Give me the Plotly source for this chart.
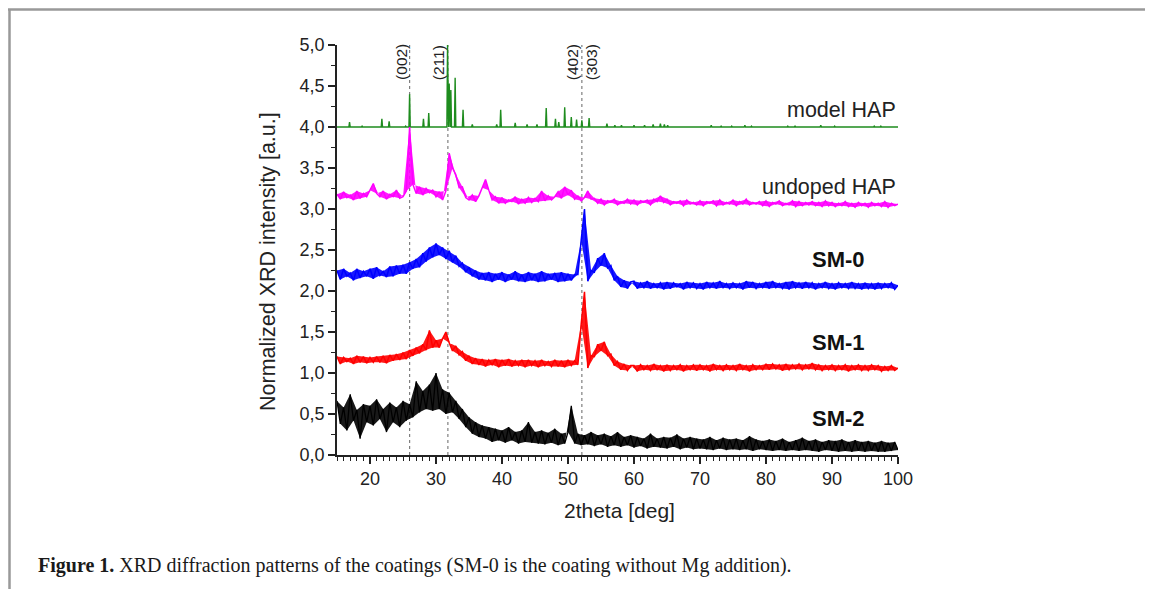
import numpy as np
import plotly.graph_objects as go

# ---------------- data ----------------
two_theta = [round(15.0 + 0.5 * i, 2) for i in range(171)]   # 15 ... 100 deg, 0.5 deg step

undoped_hap = [
    3.18, 3.12, 3.21, 3.14, 3.17, 3.11, 3.22, 3.13, 3.19, 3.15,
    3.23, 3.31, 3.19, 3.15, 3.22, 3.12, 3.18, 3.15, 3.23, 3.13,
    3.15, 3.22, 4.00, 3.30, 3.19, 3.27, 3.17, 3.25, 3.20, 3.23,
    3.15, 3.21, 3.11, 3.22, 3.68, 3.50, 3.42, 3.26, 3.27, 3.14,
    3.11, 3.17, 3.09, 3.16, 3.26, 3.36, 3.23, 3.11, 3.15, 3.07,
    3.14, 3.07, 3.11, 3.09, 3.15, 3.06, 3.12, 3.07, 3.14, 3.08,
    3.13, 3.09, 3.22, 3.10, 3.16, 3.11, 3.15, 3.21, 3.13, 3.27,
    3.17, 3.23, 3.12, 3.16, 3.10, 3.14, 3.22, 3.12, 3.13, 3.07,
    3.12, 3.05, 3.10, 3.08, 3.12, 3.05, 3.09, 3.07, 3.12, 3.06,
    3.11, 3.05, 3.10, 3.08, 3.11, 3.05, 3.12, 3.09, 3.16, 3.08,
    3.12, 3.05, 3.09, 3.07, 3.10, 3.04, 3.11, 3.06, 3.08, 3.05,
    3.10, 3.04, 3.09, 3.07, 3.10, 3.04, 3.11, 3.05, 3.08, 3.06,
    3.11, 3.04, 3.09, 3.06, 3.12, 3.05, 3.08, 3.06, 3.09, 3.04,
    3.10, 3.03, 3.08, 3.06, 3.10, 3.04, 3.07, 3.05, 3.10, 3.03,
    3.09, 3.04, 3.08, 3.05, 3.09, 3.04, 3.08, 3.03, 3.10, 3.04,
    3.08, 3.03, 3.07, 3.04, 3.09, 3.03, 3.07, 3.02, 3.08, 3.04,
    3.07, 3.02, 3.08, 3.04, 3.07, 3.03, 3.09, 3.02, 3.07, 3.04,
    3.06,
]

sm0 = [
    2.25, 2.14, 2.27, 2.18, 2.22, 2.13, 2.27, 2.16, 2.24, 2.18,
    2.27, 2.15, 2.29, 2.19, 2.24, 2.17, 2.30, 2.18, 2.31, 2.21,
    2.32, 2.21, 2.35, 2.27, 2.39, 2.29, 2.46, 2.36, 2.53, 2.41,
    2.58, 2.44, 2.53, 2.39, 2.49, 2.35, 2.43, 2.30, 2.34, 2.23,
    2.29, 2.18, 2.25, 2.14, 2.22, 2.13, 2.23, 2.11, 2.21, 2.14,
    2.23, 2.11, 2.20, 2.14, 2.24, 2.12, 2.20, 2.11, 2.23, 2.13,
    2.21, 2.11, 2.24, 2.12, 2.21, 2.14, 2.22, 2.11, 2.23, 2.12,
    2.21, 2.13, 2.20, 2.20, 2.62, 3.00, 2.12, 2.25, 2.23, 2.40,
    2.31, 2.46, 2.28, 2.31, 2.13, 2.18, 2.05, 2.13, 2.03, 2.11,
    2.12, 2.03, 2.10, 2.04, 2.12, 2.03, 2.09, 2.04, 2.10, 2.02,
    2.11, 2.03, 2.10, 2.05, 2.09, 2.02, 2.11, 2.04, 2.10, 2.03,
    2.09, 2.02, 2.11, 2.04, 2.10, 2.03, 2.12, 2.04, 2.09, 2.03,
    2.10, 2.04, 2.09, 2.02, 2.12, 2.04, 2.11, 2.03, 2.09, 2.04,
    2.11, 2.03, 2.12, 2.04, 2.09, 2.03, 2.11, 2.02, 2.12, 2.04,
    2.10, 2.03, 2.11, 2.04, 2.10, 2.02, 2.09, 2.04, 2.11, 2.03,
    2.09, 2.02, 2.10, 2.04, 2.09, 2.03, 2.11, 2.03, 2.09, 2.02,
    2.10, 2.03, 2.09, 2.02, 2.10, 2.03, 2.09, 2.04, 2.10, 2.02,
    2.07,
]

sm1 = [
    1.20, 1.11, 1.19, 1.14, 1.18, 1.11, 1.21, 1.13, 1.20, 1.12,
    1.19, 1.13, 1.20, 1.13, 1.21, 1.12, 1.22, 1.15, 1.23, 1.16,
    1.25, 1.17, 1.28, 1.21, 1.31, 1.24, 1.35, 1.28, 1.52, 1.31,
    1.40, 1.31, 1.42, 1.50, 1.37, 1.27, 1.33, 1.22, 1.26, 1.15,
    1.21, 1.11, 1.18, 1.10, 1.17, 1.08, 1.16, 1.10, 1.17, 1.07,
    1.16, 1.09, 1.17, 1.08, 1.15, 1.09, 1.16, 1.07, 1.16, 1.09,
    1.15, 1.07, 1.16, 1.09, 1.14, 1.08, 1.16, 1.08, 1.15, 1.07,
    1.16, 1.09, 1.15, 1.10, 1.60, 1.99, 1.06, 1.21, 1.20, 1.35,
    1.27, 1.38, 1.21, 1.23, 1.09, 1.14, 1.04, 1.11, 1.03, 1.09,
    1.09, 1.02, 1.10, 1.04, 1.09, 1.03, 1.11, 1.04, 1.09, 1.02,
    1.10, 1.03, 1.09, 1.04, 1.10, 1.02, 1.09, 1.04, 1.10, 1.03,
    1.10, 1.04, 1.09, 1.02, 1.11, 1.04, 1.09, 1.03, 1.10, 1.04,
    1.09, 1.03, 1.11, 1.04, 1.09, 1.02, 1.10, 1.04, 1.09, 1.04,
    1.11, 1.04, 1.11, 1.05, 1.10, 1.03, 1.11, 1.04, 1.10, 1.05,
    1.11, 1.04, 1.10, 1.05, 1.12, 1.04, 1.10, 1.03, 1.09, 1.04,
    1.10, 1.03, 1.09, 1.04, 1.10, 1.02, 1.09, 1.04, 1.10, 1.03,
    1.09, 1.03, 1.10, 1.04, 1.09, 1.02, 1.08, 1.03, 1.09, 1.03,
    1.06,
]

sm2 = [
    0.66, 0.38, 0.58, 0.30, 0.74, 0.42, 0.55, 0.20, 0.62, 0.40,
    0.60, 0.36, 0.68, 0.44, 0.56, 0.28, 0.64, 0.40, 0.58, 0.34,
    0.66, 0.42, 0.62, 0.46, 0.90, 0.52, 0.78, 0.56, 0.86, 0.54,
    1.00, 0.56, 0.80, 0.50, 0.76, 0.52, 0.66, 0.44, 0.56, 0.34,
    0.46, 0.26, 0.40, 0.22, 0.36, 0.20, 0.34, 0.16, 0.32, 0.18,
    0.30, 0.15, 0.34, 0.18, 0.28, 0.14, 0.30, 0.16, 0.40, 0.15,
    0.28, 0.14, 0.30, 0.13, 0.27, 0.15, 0.32, 0.12, 0.26, 0.14,
    0.28, 0.60, 0.14, 0.26, 0.12, 0.24, 0.13, 0.28, 0.11, 0.24,
    0.13, 0.26, 0.10, 0.23, 0.12, 0.28, 0.10, 0.22, 0.12, 0.24,
    0.09, 0.22, 0.11, 0.20, 0.08, 0.26, 0.10, 0.20, 0.09, 0.22,
    0.08, 0.21, 0.10, 0.25, 0.07, 0.20, 0.09, 0.22, 0.07, 0.20,
    0.08, 0.19, 0.07, 0.22, 0.06, 0.18, 0.08, 0.21, 0.06, 0.19,
    0.07, 0.20, 0.06, 0.18, 0.07, 0.23, 0.05, 0.19, 0.07, 0.17,
    0.06, 0.19, 0.05, 0.17, 0.06, 0.20, 0.05, 0.16, 0.06, 0.18,
    0.05, 0.21, 0.06, 0.17, 0.05, 0.19, 0.04, 0.16, 0.06, 0.18,
    0.05, 0.17, 0.04, 0.19, 0.05, 0.16, 0.04, 0.18, 0.05, 0.16,
    0.04, 0.17, 0.05, 0.15, 0.04, 0.17, 0.04, 0.15, 0.05, 0.16,
    0.06,
]

# model HAP stick pattern (position in deg, peak top in normalized units, baseline 4.0)
model_baseline = 4.0
model_pos = [16.9, 18.8, 21.8, 22.9, 25.4, 26.0, 28.1, 28.9, 31.75, 32.0, 32.25, 32.9,
             34.1, 35.5, 39.2, 39.8, 42.0, 43.8, 45.3, 46.7, 48.1, 48.6, 49.5, 50.5,
             51.3, 52.1, 53.2, 55.9, 57.1, 58.1, 60.0, 61.6, 62.9, 64.0, 64.6, 65.1,
             71.7, 73.2, 74.8, 76.8, 77.8, 83.3, 84.4, 88.3, 90.4, 96.4, 97.4]
model_top = [4.06, 4.01, 4.10, 4.07, 4.01, 4.40, 4.10, 4.17, 5.00, 4.53, 4.45, 4.60,
             4.21, 4.03, 4.03, 4.21, 4.05, 4.03, 4.03, 4.23, 4.10, 4.06, 4.24, 4.12,
             4.09, 4.08, 4.11, 4.04, 4.02, 4.02, 4.02, 4.02, 4.03, 4.04, 4.03, 4.02,
             4.02, 4.01, 4.01, 4.02, 4.01, 4.01, 4.01, 4.02, 4.01, 4.01, 4.01]

reflections = ["(002)", "(211)", "(402)", "(303)"]
reflection_label_x = [24.8, 30.3, 50.6, 53.5]
reference_lines = [26.0, 31.8, 52.1]

series_labels = ["model HAP", "undoped HAP", "SM-0", "SM-1", "SM-2"]
series_label_y = [4.21, 3.27, 2.38, 1.37, 0.45]

y_ticks = [0.0, 0.5, 1.0, 1.5, 2.0, 2.5, 3.0, 3.5, 4.0, 4.5, 5.0]
x_ticks = [20, 30, 40, 50, 60, 70, 80, 90, 100]

assert len(undoped_hap) == len(two_theta) == len(sm0) == len(sm1) == len(sm2)

# ---------------- figure geometry ----------------
W, H = 1153, 589
OFF = 8                      # page body margin of the html page
PL, PT, PR, PB = 337, 45, 898, 455      # plot area in page pixels
L, T = PL - OFF, PT - OFF
PW, PH = PR - PL, PB - PT
R = W - L - PW
B = H - T - PH


def px(xp):
    return (xp - PL) / PW


def py(yp):
    return (PB - yp) / PH


# build model stick line from peak table
mx, my = [15.0], [model_baseline]
for p, h in zip(model_pos, model_top):
    mx += [p - 0.1, p, p + 0.1]
    my += [model_baseline, h, model_baseline]
mx.append(100.0)
my.append(model_baseline)

fig = go.Figure()
fig.add_trace(go.Scatter(x=mx, y=my, mode="lines", line=dict(color="#1E8C1E", width=1.4),
                         name="model HAP", hoverinfo="skip"))


def add_noisy(values, color, fillcolor, width):
    # filled noise band between the alternating samples, then the trace itself
    xe, ye = two_theta[0::2], values[0::2]
    xo, yo = two_theta[1::2], values[1::2]
    fig.add_trace(go.Scatter(x=xe + xo[::-1], y=ye + yo[::-1], mode="lines", fill="toself",
                             fillcolor=fillcolor, line=dict(width=0), hoverinfo="skip"))
    fig.add_trace(go.Scatter(x=two_theta, y=values, mode="lines",
                             line=dict(color=color, width=width)))


add_noisy(undoped_hap, "#FF00FF", "rgba(255,0,255,0.9)", 1.5)
add_noisy(sm0, "#0000FF", "rgba(0,0,255,0.9)", 1.5)
add_noisy(sm1, "#FF0000", "rgba(255,0,0,0.9)", 1.5)
add_noisy(sm2, "#000000", "rgba(0,0,0,0.9)", 1.3)

# dotted reference lines
for xv in reference_lines:
    fig.add_shape(type="line", x0=xv, x1=xv, y0=0, y1=5, xref="x", yref="y",
                  line=dict(color="#7F7F7F", width=1.2, dash="dot"), layer="below")

# frame of the figure page
fig.add_shape(type="line", xref="paper", yref="paper", x0=px(8), x1=px(1170), y0=py(9.5), y1=py(9.5),
              line=dict(color="#999999", width=2.5))
fig.add_shape(type="line", xref="paper", yref="paper", x0=px(9.5), x1=px(9.5), y0=py(9.5), y1=py(600),
              line=dict(color="#999999", width=2.5))

ann = []
for txt, xv in zip(reflections, reflection_label_x):
    ann.append(dict(x=xv, y=4.79, xref="x", yref="y", text=txt, textangle=-90, showarrow=False,
                    font=dict(family="Liberation Sans, Arial", size=15.5, color="#222222"),
                    xanchor="center", yanchor="middle"))

for txt, yv in zip(series_labels, series_label_y):
    if txt.startswith("SM"):
        ann.append(dict(x=91, y=yv, xref="x", yref="y", text="<b>%s</b>" % txt, showarrow=False,
                        font=dict(family="Liberation Sans, Arial", size=22, color="#111111"),
                        xanchor="center", yanchor="middle"))
    else:
        ann.append(dict(x=100, y=yv, xref="x", yref="y", text=txt, showarrow=False,
                        font=dict(family="Liberation Sans, Arial", size=21.5, color="#222222"),
                        xanchor="right", yanchor="middle"))

ann.append(dict(x=px(268), y=py(262), xref="paper", yref="paper",
                text="Normalized XRD intensity [a.u.]", textangle=-90, showarrow=False,
                font=dict(family="Liberation Sans, Arial", size=21.5, color="#222222"),
                xanchor="center", yanchor="middle"))
ann.append(dict(x=px(619), y=py(510), xref="paper", yref="paper",
                text="2theta [deg]", showarrow=False,
                font=dict(family="Liberation Sans, Arial", size=21, color="#222222"),
                xanchor="center", yanchor="middle"))
ann.append(dict(x=px(36), y=py(565), xref="paper", yref="paper",
                text="<b>Figure 1.</b> XRD diffraction patterns of the coatings (SM-0 is the coating without Mg addition).",
                showarrow=False,
                font=dict(family="Liberation Serif, Times New Roman", size=20, color="#1A1A1A"),
                xanchor="left", yanchor="middle"))

fig.update_layout(
    width=W, height=H, autosize=False,
    margin=dict(l=L, r=R, t=T, b=B, pad=0),
    paper_bgcolor="white", plot_bgcolor="white",
    showlegend=False,
    separators=",.",
    annotations=ann,
    xaxis=dict(range=[15, 100], tickvals=x_ticks, showgrid=False, zeroline=False,
               showline=True, linecolor="#222222", linewidth=1.5,
               ticks="outside", ticklen=7, tickwidth=1.5, tickcolor="#222222",
               minor=dict(dtick=1, tick0=0, ticks="outside", ticklen=4, tickwidth=1.2, tickcolor="#222222"),
               tickfont=dict(family="Liberation Sans, Arial", size=18, color="#222222")),
    yaxis=dict(range=[0, 5], tickvals=y_ticks, tickformat=".1f", showgrid=False, zeroline=False,
               showline=True, linecolor="#222222", linewidth=1.5,
               ticks="outside", ticklen=7, tickwidth=1.5, tickcolor="#222222",
               minor=dict(dtick=0.25, tick0=0, ticks="outside", ticklen=4, tickwidth=1.2, tickcolor="#222222"),
               tickfont=dict(family="Liberation Sans, Arial", size=18, color="#222222")),
)

fig.write_html("out.html")
